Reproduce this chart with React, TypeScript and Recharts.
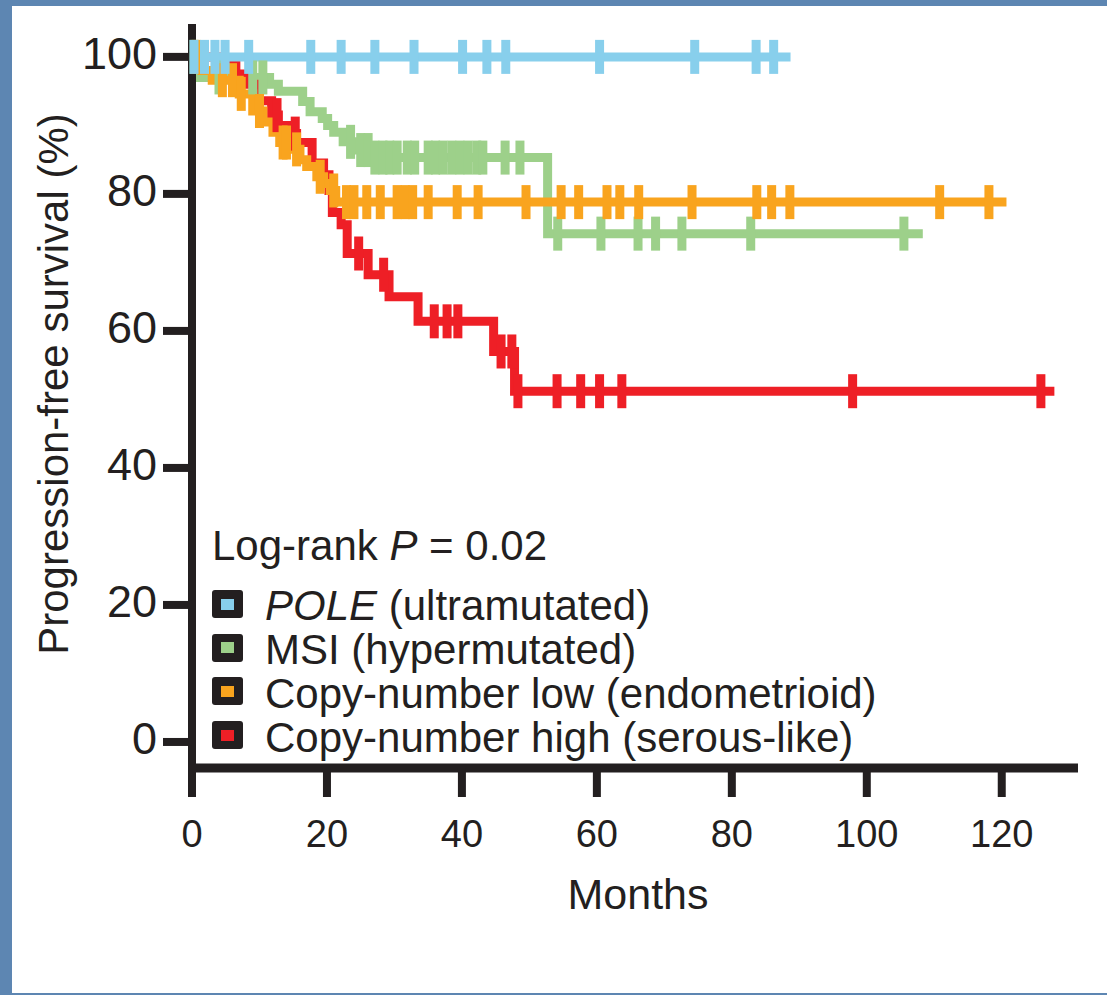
import React from 'react';
import { LineChart, Line, XAxis, YAxis, Legend } from 'recharts';

const FONT = '"Liberation Sans", Arial, Helvetica, sans-serif';
const INK = '#231f20';

// ---------- data ----------
const groupNames = ['POLE', 'MSI', 'Copy-number low', 'Copy-number high'];
const groupSubtitles = ['(ultramutated)', '(hypermutated)', '(endometrioid)', '(serous-like)'];
const groupColors = ['#88cfec', '#9dd08a', '#f9a41e', '#ee1f26'];

const xTicks = [0, 20, 40, 60, 80, 100, 120];
const yTicks = [0, 20, 40, 60, 80, 100];
const pValueText = '0.02';

// POLE (ultramutated)
const poleStepMonths = [0];
const poleStepSurvival = [100];
const poleCensorMonths = [0.3, 1.85, 3.4, 4.9, 8.4, 17.6, 22.1, 27.1, 32.9, 40.1, 43.7, 46.5, 60.4, 74.5, 83.6, 86.2];
const poleLastMonth = 88.7;

// MSI (hypermutated)
const msiStepMonths = [0, 0.4, 11.5, 12.8, 16.4, 17.5, 19.3, 20.1, 21, 22.4, 24.5, 26.5, 52.7];
const msiStepSurvival = [100, 97, 96, 95, 93.5, 92, 91, 90, 89, 87.6, 86.4, 85.3, 74.2];
const msiCensorMonths = [0.3, 4, 9, 10.5, 23.5, 25, 26.1, 27.1, 28.3, 29.3, 30.4, 31.9, 33, 35, 36.1, 37.2, 38.5, 39.7, 40.9, 42.2, 43.1, 46.4, 48.6, 54.2, 60.6, 66.1, 68.7, 72.6, 82.8, 105.5];
const msiLastMonth = 108.3;

// Copy-number low (endometrioid)
const cnLowStepMonths = [0, 1.5, 3, 7, 9, 10.5, 12, 13, 14.5, 16, 17, 18.5, 19.5, 20.5, 21.3];
const cnLowStepSurvival = [100, 98, 96.6, 94.6, 92.1, 90.5, 89, 87.5, 86.5, 85, 84, 82.5, 81.5, 80.5, 78.8];
const cnLowCensorMonths = [0.6, 4.5, 6, 7.3, 10, 13.5, 14, 15.5, 19, 21, 22.9, 24, 25.9, 27.9, 30.4, 31.6, 32.7, 35, 39.3, 42.4, 49.5, 54.7, 57.3, 61.5, 63.4, 66.2, 74.1, 83.7, 85.9, 88.6, 110.8, 118.1];
const cnLowLastMonth = 120.7;

// Copy-number high (serous-like)
const cnHighStepMonths = [0, 4, 6.5, 8.5, 10, 11.8, 12.8, 14.2, 15.5, 17.8, 19.5, 20.3, 20.8, 22.1, 23, 26.1, 29.2, 33.5, 44.7, 47.8];
const cnHighStepSurvival = [100, 98.8, 97.5, 96, 93.6, 91.5, 90, 88.8, 87.5, 84.5, 82.8, 80.5, 77.3, 75.5, 71.3, 68.2, 65, 61.4, 57, 51.2];
const cnHighCensorMonths = [12.6, 15.3, 24.7, 28.4, 35.9, 37.8, 39.4, 45.8, 47.4, 48.3, 54.1, 57.6, 60.4, 63.7, 97.9, 125.8];
const cnHighLastMonth = 127.8;

// ---------- layout ----------
const W = 1107;
const H = 995;
const PLOT_LEFT = 192;
const PLOT_TOP = 24;
const PLOT_RIGHT = 1078;
const PLOT_BOTTOM = 768;
const X_AXIS_H = 100;

type Pt = { t: number; s: number; c: boolean };

function buildSeries(stepT: number[], stepS: number[], censors: number[], last: number): Pt[] {
  const survAt = (t: number) => {
    let s = stepS[0];
    for (let i = 0; i < stepT.length; i++) if (stepT[i] <= t) s = stepS[i];
    return s;
  };
  const pts: Pt[] = stepT.map((t, i) => ({ t, s: stepS[i], c: false }));
  censors.forEach((t) => pts.push({ t, s: survAt(t), c: true }));
  pts.push({ t: last, s: survAt(last), c: false });
  pts.sort((a, b) => a.t - b.t);
  return pts;
}

const poleData = buildSeries(poleStepMonths, poleStepSurvival, poleCensorMonths, poleLastMonth);
const msiData = buildSeries(msiStepMonths, msiStepSurvival, msiCensorMonths, msiLastMonth);
const cnLowData = buildSeries(cnLowStepMonths, cnLowStepSurvival, cnLowCensorMonths, cnLowLastMonth);
const cnHighData = buildSeries(cnHighStepMonths, cnHighStepSurvival, cnHighCensorMonths, cnHighLastMonth);

const makeCensorDot = (color: string) => (props: any) => {
  const { cx, cy, payload, index } = props;
  if (!payload || !payload.c || cx == null || cy == null) return <g key={`n-${index}`} />;
  return <rect key={`c-${index}`} x={cx - 4.5} y={cy - 17} width={9} height={34} fill={color} />;
};

const YTick = (props: any) => {
  const { x, y, payload } = props;
  return (
    <text x={x} y={y + 12} textAnchor="end" fontSize={45} fontFamily={FONT} fill={INK}>
      {payload.value}
    </text>
  );
};

const XTick = (props: any) => {
  const { x, y, payload } = props;
  return (
    <text x={x} y={y + 27} textAnchor="middle" fontSize={38} fontFamily={FONT} fill={INK}>
      {payload.value}
    </text>
  );
};

const renderYLabel = () => (
  <text
    transform={`translate(68, ${(PLOT_TOP + PLOT_BOTTOM) / 2 - 12}) rotate(-90)`}
    textAnchor="middle"
    fontSize={42}
    fontFamily={FONT}
    fill={INK}
  >
    Progression-free survival (%)
  </text>
);

const renderXLabel = () => (
  <text x={(PLOT_LEFT + PLOT_RIGHT) / 2 + 3} y={909} textAnchor="middle" fontSize={43} fontFamily={FONT} fill={INK}>
    Months
  </text>
);

const LEG_LEFT = 200;
const LEG_TOP = 520;

const renderLegend = () => (
  <div style={{ position: 'relative', width: 700, height: 250, fontFamily: FONT, color: INK }}>
    <div style={{ position: 'absolute', left: 12, top: 4.5, fontSize: 42, lineHeight: '42px', whiteSpace: 'nowrap' }}>
      Log-rank <i>P</i> = {pValueText}
    </div>
    {groupNames.map((name, i) => (
      <React.Fragment key={name}>
        <div
          style={{
            position: 'absolute',
            left: 12,
            top: 70 + i * 43.7,
            width: 31,
            height: 28,
            background: INK,
            borderRadius: 3,
          }}
        >
          <div style={{ position: 'absolute', left: 9, top: 8.5, width: 13, height: 11, background: groupColors[i] }} />
        </div>
        <div
          style={{
            position: 'absolute',
            left: 65,
            top: 64.5 + i * 44,
            fontSize: 42,
            lineHeight: '42px',
            whiteSpace: 'nowrap',
          }}
        >
          {i === 0 ? <i>{name}</i> : name} {groupSubtitles[i]}
        </div>
      </React.Fragment>
    ))}
  </div>
);

export default function App() {
  return (
    <div style={{ position: 'relative', width: W, height: H, background: '#5d86b2', overflow: 'hidden' }}>
      <style>{`html,body{margin:0;padding:0;overflow:hidden;background:#fff}`}</style>
      <div style={{ position: 'absolute', left: 12, top: 6, width: W - 12, height: H - 8, background: '#ffffff' }} />
      <div style={{ position: 'absolute', left: 0, top: 0 }}>
        <LineChart
          width={W}
          height={H}
          margin={{ top: PLOT_TOP, right: W - PLOT_RIGHT, left: 0, bottom: H - PLOT_BOTTOM - X_AXIS_H }}
        >
          <XAxis
            type="number"
            dataKey="t"
            domain={[0, 131.3]}
            ticks={xTicks}
            height={X_AXIS_H}
            tickSize={29}
            tickMargin={23}
            axisLine={{ stroke: INK, strokeWidth: 9 }}
            tickLine={{ stroke: INK, strokeWidth: 8 }}
            tick={XTick}
            label={renderXLabel}
          />
          <YAxis
            type="number"
            domain={[-3.8, 104.8]}
            ticks={yTicks}
            width={PLOT_LEFT}
            tickSize={29}
            tickMargin={6}
            axisLine={{ stroke: INK, strokeWidth: 8 }}
            tickLine={{ stroke: INK, strokeWidth: 8 }}
            tick={YTick}
            label={renderYLabel}
          />
          <Line
            data={msiData}
            dataKey="s"
            type="stepAfter"
            stroke={groupColors[1]}
            strokeWidth={9}
            dot={makeCensorDot(groupColors[1])}
            activeDot={false}
            isAnimationActive={false}
          />
          <Line
            data={cnHighData}
            dataKey="s"
            type="stepAfter"
            stroke={groupColors[3]}
            strokeWidth={9}
            dot={makeCensorDot(groupColors[3])}
            activeDot={false}
            isAnimationActive={false}
          />
          <Line
            data={cnLowData}
            dataKey="s"
            type="stepAfter"
            stroke={groupColors[2]}
            strokeWidth={9}
            dot={makeCensorDot(groupColors[2])}
            activeDot={false}
            isAnimationActive={false}
          />
          <Line
            data={poleData}
            dataKey="s"
            type="stepAfter"
            stroke={groupColors[0]}
            strokeWidth={9}
            dot={makeCensorDot(groupColors[0])}
            activeDot={false}
            isAnimationActive={false}
          />
          <Legend
            layout="vertical"
            align="center"
            verticalAlign="middle"
            wrapperStyle={{ left: LEG_LEFT, top: LEG_TOP, width: 700, height: 250 }}
            content={renderLegend}
          />
        </LineChart>
      </div>
    </div>
  );
}
